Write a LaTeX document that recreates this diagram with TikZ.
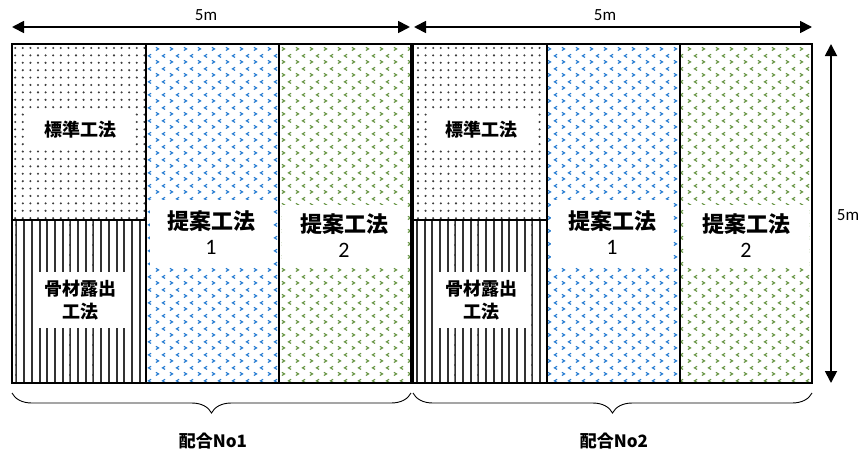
\documentclass[tikz,border=0pt]{standalone}
\usepackage{fontspec}
\setmainfont{Carlito}
\newfontfamily\jp{Noto Sans CJK JP}
\usetikzlibrary{patterns,arrows.meta,decorations.pathreplacing}
\definecolor{dotc}{RGB}{60,60,60}
\definecolor{linec}{RGB}{50,50,50}
\definecolor{bluec}{RGB}{40,125,210}
\definecolor{greenc}{RGB}{105,150,70}
\newcommand{\cellnum}[1]{{\rmfamily\mdseries\fontsize{22}{24}\selectfont #1}}
\pgfdeclarepatternformonly{mydots}{\pgfqpoint{-1.3pt}{-1.3pt}}{\pgfqpoint{1.3pt}{1.3pt}}{\pgfqpoint{7.6pt}{7.4pt}}{\pgfpathcircle{\pgfqpoint{0pt}{0pt}}{1.15pt}\pgfusepath{fill}}
\pgfdeclarepatternformonly{myvlines}{\pgfqpoint{0pt}{-1pt}}{\pgfqpoint{7.7pt}{11pt}}{\pgfqpoint{7.7pt}{10pt}}{\pgfpathrectangle{\pgfqpoint{0pt}{-1pt}}{\pgfqpoint{2pt}{12pt}}\pgfusepath{fill}}
\pgfdeclarepatternformonly{mychev}{\pgfqpoint{0pt}{0pt}}{\pgfqpoint{14pt}{13pt}}{\pgfqpoint{14pt}{13pt}}{%
\pgfsetlinewidth{1.25pt}%
\pgfpathmoveto{\pgfqpoint{2pt}{5pt}}\pgfpathlineto{\pgfqpoint{4.8pt}{3.3pt}}\pgfpathlineto{\pgfqpoint{2pt}{1.6pt}}%
\pgfpathmoveto{\pgfqpoint{11.8pt}{11.5pt}}\pgfpathlineto{\pgfqpoint{9pt}{9.8pt}}\pgfpathlineto{\pgfqpoint{11.8pt}{8.1pt}}%
\pgfusepath{stroke}}
\tikzset{
  cell/.style={draw=black, line width=1.4pt},
  dim/.style={line width=1.8pt, {Triangle[length=12pt,width=12pt]}-{Triangle[length=12pt,width=12pt]}},
  brc/.style={decorate, decoration={brace, mirror, amplitude=20pt}, line width=0.9pt},
  lbl/.style={fill=white, inner sep=0pt, align=center, font=\jp\bfseries\fontsize{18}{23}\selectfont},
  big/.style={fill=white, inner sep=0pt, align=center, font=\jp\bfseries\fontsize{22}{25}\selectfont},
  dimtxt/.style={font=\fontsize{17}{19}\selectfont, inner sep=1pt},
  grp/.style={font=\jp\bfseries\fontsize{17}{19}\selectfont, inner sep=1pt}
}
\begin{document}
\begin{tikzpicture}[x=1pt,y=-1pt]
\useasboundingbox (0,0) rectangle (863,455);
% patterns
\foreach \ox in {0,401}{
  \begin{scope}[xshift=\ox]
  \fill[pattern=mydots, pattern color=dotc] (12,44) rectangle (146,220);
  \fill[pattern=myvlines, pattern color=linec] (12,220) rectangle (146,383);
  \fill[pattern=mychev, pattern color=bluec] (146,44) rectangle (279,383);
  \fill[pattern=mychev, pattern color=greenc] (279,44) rectangle (411,383);
  \draw[cell] (12,44) rectangle (411,383);
  \draw[cell] (146,44) -- (146,383);
  \draw[cell] (279,44) -- (279,383);
  \draw[cell] (12,220) -- (146,220);
  \end{scope}
}
% labels
\node[lbl, minimum width=106pt, minimum height=36pt] (s1) at (80,130) {標準工法};
\node[lbl, minimum width=95pt, minimum height=56pt] (k1) at (80,300) {骨材露出\\工法};
\node[big, minimum width=122pt, minimum height=66pt] (p11) at (211,233) {提案工法\\\cellnum{1}};
\node[big, minimum width=125pt, minimum height=62pt] (p21) at (344,236) {提案工法\\\cellnum{2}};
\node[lbl, minimum width=106pt, minimum height=36pt] (s2) at (481,130) {標準工法};
\node[lbl, minimum width=95pt, minimum height=56pt] (k2) at (481,300) {骨材露出\\工法};
\node[big, minimum width=122pt, minimum height=66pt] (p12) at (612,233) {提案工法\\\cellnum{1}};
\node[big, minimum width=125pt, minimum height=62pt] (p22) at (746,236) {提案工法\\\cellnum{2}};
% dimension arrows
\coordinate (a1) at (12,27);
\coordinate (a2) at (410,27);
\coordinate (a3) at (414,27);
\coordinate (a4) at (812,27);
\coordinate (v1) at (831,44);
\coordinate (v2) at (831,383);
\draw[dim] (a1) -- (a2);
\draw[dim] (a3) -- (a4);
\draw[dim] (v1) -- (v2);
\node[dimtxt] (d1) at (206,15) {5m};
\node[dimtxt] (d2) at (605,15) {5m};
\node[dimtxt] (d3) at (848,215) {5m};
% braces
\coordinate (b1) at (12,393);
\coordinate (b2) at (411,393);
\coordinate (b3) at (413,393);
\coordinate (b4) at (812,393);
\draw[brc] (b1) -- (b2);
\draw[brc] (b3) -- (b4);
\node[grp] (g1) at (213,441) {配合No1};
\node[grp] (g2) at (614,441) {配合No2};
\end{tikzpicture}
\end{document}
